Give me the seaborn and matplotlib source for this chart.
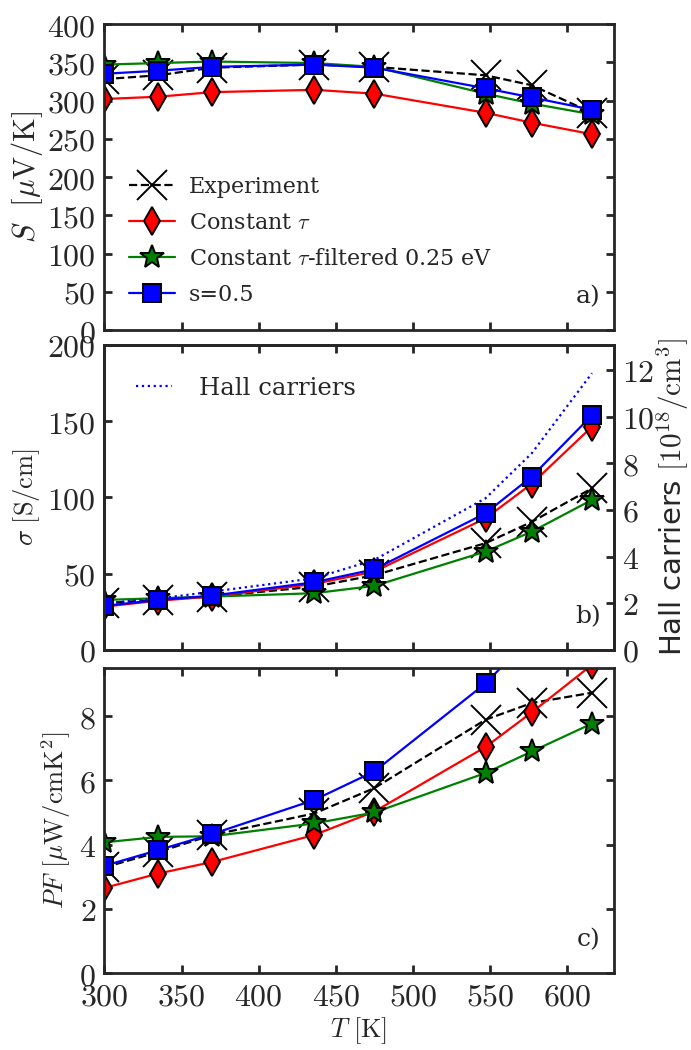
import numpy as np
import matplotlib
matplotlib.use("Agg")
import matplotlib.pyplot as plt
from matplotlib.ticker import FuncFormatter, MultipleLocator
import seaborn as sns

# ---------------- data ----------------
T = [300, 335, 370, 436, 475, 547, 577, 616]

S_exp = [328, 333, 343, 347, 344, 333, 320, 284]
S_ct = [302, 305, 311, 314, 309, 284, 271, 256]
S_filt = [347, 349, 351, 349, 344, 309, 296, 282]
S_s05 = [335, 339, 344, 347, 343, 316, 304, 288]

sig_exp = [30.6, 33.0, 35.0, 41.5, 49.0, 70.0, 84.0, 106.0]
sig_ct = [28.4, 32.3, 35.0, 43.3, 51.4, 86.3, 109.0, 146.4]
sig_filt = [32.8, 33.9, 35.0, 37.2, 42.0, 64.5, 77.6, 98.4]
sig_s05 = [28.9, 32.8, 35.6, 44.4, 52.9, 89.6, 113.7, 153.9]
hall = [2.0, 2.2, 2.5, 3.07, 3.86, 6.5, 8.43, 11.86]

PF_exp = [3.29, 3.77, 4.3, 4.97, 5.76, 7.89, 8.41, 8.73]
PF_ct = [2.65, 3.10, 3.46, 4.30, 5.03, 7.04, 8.12, 9.6]
PF_filt = [4.07, 4.24, 4.26, 4.66, 5.0, 6.23, 6.90, 7.77]
PF_s05 = [3.34, 3.83, 4.33, 5.39, 6.28, 9.02, 10.5, 12.8]

labels = ["Experiment", r"Constant $\tau$",
          r"Constant $\tau$-filtered 0.25 eV", "s=0.5"]

# ---------------- style ----------------
sns.set_style("ticks")
plt.rcParams["font.family"] = ["DejaVu Serif"]
plt.rcParams["mathtext.fontset"] = "cm"
plt.rcParams["axes.linewidth"] = 2.0

fig = plt.figure(figsize=(6.91, 10.5), dpi=100)
L, W, H = 0.151, 0.737, 0.2905
ax_a = fig.add_axes([L, 0.6857, W, 0.2914])
ax_b = fig.add_axes([L, 0.381, W, H])
ax_c = fig.add_axes([L, 0.0733, W, H])

mathfmt = FuncFormatter(lambda v, p: f"${v:g}$")


def draw(ax, ys):
    specs = [
        dict(color="k", linestyle="--", marker="x", markersize=22,
             markeredgewidth=1.4, markeredgecolor="k"),
        dict(color="red", marker="d", markersize=14,
             markerfacecolor="red", markeredgecolor="k", markeredgewidth=1.4),
        dict(color="green", marker="*", markersize=18,
             markerfacecolor="green", markeredgecolor="k", markeredgewidth=1.4),
        dict(color="blue", marker="s", markersize=12.5,
             markerfacecolor="blue", markeredgecolor="k", markeredgewidth=1.4),
    ]
    for y, lab, sp in zip(ys, labels, specs):
        sns.lineplot(x=T, y=y, ax=ax, label=lab, linewidth=1.6,
                     legend=False, sort=False, **sp)


def style_ax(ax, right=True):
    ax.set_xlim(300, 630)
    ax.xaxis.set_major_locator(MultipleLocator(50))
    ax.tick_params(axis="both", direction="in", length=6, width=2,
                   labelsize=23, top=True, right=right, pad=6)
    ax.yaxis.set_major_formatter(mathfmt)
    ax.xaxis.set_major_formatter(mathfmt)


# panel a
draw(ax_a, [S_exp, S_ct, S_filt, S_s05])
style_ax(ax_a)
ax_a.set_ylim(0, 400)
ax_a.yaxis.set_major_locator(MultipleLocator(50))
ax_a.tick_params(labelbottom=False)
ax_a.set_ylabel(r"$S\ \ [\mu\mathrm{V}/\mathrm{K}]$", fontsize=22, labelpad=2)
h, l = ax_a.get_legend_handles_labels()
ax_a.legend(h, l, loc="lower left", bbox_to_anchor=(0.0, 0.0), frameon=False,
            fontsize=16, handlelength=2.1, handletextpad=0.6,
            labelspacing=0.62, numpoints=1, borderaxespad=0.7)
ax_a.text(0.975, 0.07, "a)", transform=ax_a.transAxes, ha="right",
          va="bottom", fontsize=18)

# panel b
draw(ax_b, [sig_exp, sig_ct, sig_filt, sig_s05])
style_ax(ax_b, right=False)
ax_b.set_ylim(0, 200)
ax_b.yaxis.set_major_locator(MultipleLocator(50))
ax_b.tick_params(labelbottom=False)
ax_b.set_ylabel(r"$\sigma\ [\mathrm{S/cm}]$", fontsize=19, labelpad=4)
ax_b2 = ax_b.twinx()
sns.lineplot(x=T, y=hall, ax=ax_b2, color="blue", linestyle=":",
             linewidth=1.6, label="Hall carriers", legend=False, sort=False)
ax_b2.set_ylim(0, 13.07)
ax_b2.yaxis.set_major_locator(MultipleLocator(2))
ax_b2.yaxis.set_major_formatter(mathfmt)
ax_b2.tick_params(axis="y", direction="in", length=6, width=2,
                  labelsize=23, pad=6)
ax_b2.set_ylabel(r"Hall carriers $[10^{18}/\mathrm{cm}^3]$", fontsize=21,
                 family="DejaVu Sans", labelpad=0)
h2, l2 = ax_b2.get_legend_handles_labels()
ax_b2.legend(h2, l2, loc="upper left", frameon=False, fontsize=17.5,
             handlelength=1.5, handletextpad=1.1, borderaxespad=0.9)
ax_b.text(0.975, 0.07, "b)", transform=ax_b.transAxes, ha="right",
          va="bottom", fontsize=18)

# panel c
draw(ax_c, [PF_exp, PF_ct, PF_filt, PF_s05])
style_ax(ax_c)
ax_c.set_ylim(0, 9.5)
ax_c.yaxis.set_major_locator(MultipleLocator(2))
ax_c.set_ylabel(r"$PF\ [\mu\mathrm{W/cmK}^2]$", fontsize=19, labelpad=4)
ax_c.set_xlabel(r"$T\ [\mathrm{K}]$", fontsize=19, labelpad=2)
ax_c.text(0.975, 0.07, "c)", transform=ax_c.transAxes, ha="right",
          va="bottom", fontsize=18)

fig.savefig("out.png", dpi=100)
